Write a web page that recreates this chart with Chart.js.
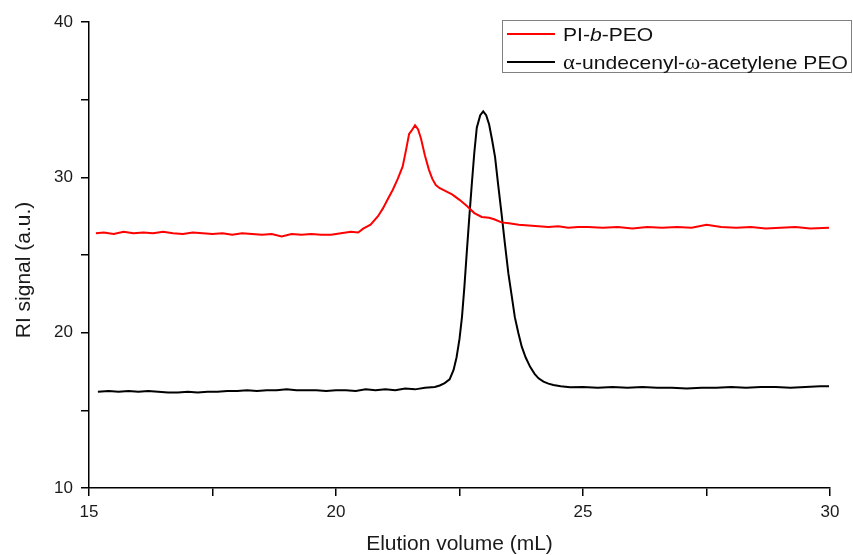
<!DOCTYPE html>
<html lang="en">
<head>
  <meta charset="UTF-8" />
  <title>GPC traces</title>
  <script src="https://cdn.jsdelivr.net/npm/chart.js"></script>
  <style>
    html, body { margin: 0; padding: 0; background: #fff; }
    #wrap { width: 853px; height: 555px; }
  </style>
</head>
<body>
  <div id="wrap"><canvas id="chartGpc" width="853" height="555"></canvas></div>

  <script>
    // PI-b-PEO trace (elution volume in mL, RI signal)
    const redX = [15.14, 15.3, 15.5, 15.7, 15.9, 16.1, 16.3, 16.5, 16.7, 16.9, 17.1, 17.3, 17.5, 17.7, 17.9,
      18.1, 18.3, 18.5, 18.7, 18.9, 19.1, 19.3, 19.5, 19.7, 19.9, 20.1, 20.3, 20.45, 20.55, 20.7, 20.85,
      20.95, 21.05, 21.15, 21.25, 21.35, 21.42, 21.48, 21.53, 21.6, 21.66, 21.72, 21.8, 21.88, 21.95,
      22.02, 22.1, 22.2, 22.35, 22.5, 22.65, 22.8, 22.95, 23.1, 23.2, 23.35, 23.5, 23.7, 23.9, 24.1, 24.3,
      24.5, 24.7, 24.9, 25.1, 25.4, 25.7, 26.0, 26.3, 26.6, 26.9, 27.2, 27.5, 27.8, 28.1, 28.4, 28.7,
      29.0, 29.3, 29.6, 29.98];
    const redY = [26.4, 26.45, 26.35, 26.5, 26.4, 26.45, 26.4, 26.5, 26.4, 26.35, 26.45, 26.4, 26.35, 26.4, 26.3,
      26.4, 26.35, 26.3, 26.35, 26.2, 26.35, 26.3, 26.35, 26.3, 26.3, 26.4, 26.5, 26.45, 26.7, 26.95, 27.5,
      28.0, 28.6, 29.2, 29.9, 30.7, 31.8, 32.8, 33.0, 33.35, 33.1, 32.5, 31.4, 30.5, 29.9,
      29.5, 29.3, 29.15, 28.9, 28.55, 28.15, 27.7, 27.45, 27.4, 27.3, 27.1, 27.05, 26.95, 26.9, 26.85, 26.8,
      26.85, 26.75, 26.8, 26.8, 26.75, 26.8, 26.7, 26.8, 26.75, 26.8, 26.75, 26.95, 26.8, 26.75, 26.8, 26.7,
      26.75, 26.8, 26.7, 26.75];

    // alpha-undecenyl-omega-acetylene PEO trace
    const blackX = [15.18, 15.4, 15.6, 15.8, 16.0, 16.2, 16.4, 16.6, 16.8, 17.0, 17.2, 17.4, 17.6, 17.8, 18.0,
      18.2, 18.4, 18.6, 18.8, 19.0, 19.2, 19.4, 19.6, 19.8, 20.0, 20.2, 20.4, 20.6, 20.8, 21.0, 21.2, 21.4,
      21.6, 21.8, 22.0, 22.1, 22.2, 22.3, 22.38, 22.44, 22.5, 22.55, 22.6, 22.65, 22.7, 22.75, 22.8, 22.85,
      22.92, 22.98, 23.04, 23.1, 23.16, 23.22, 23.28, 23.35, 23.42, 23.49, 23.56, 23.62, 23.69, 23.76,
      23.84, 23.93, 24.02, 24.1, 24.2, 24.3, 24.4, 24.55, 24.74, 25.0, 25.3, 25.6, 25.9, 26.2, 26.5, 26.8,
      27.1, 27.4, 27.7, 28.0, 28.3, 28.6, 28.9, 29.2, 29.5, 29.8, 29.98];
    const blackY = [16.2, 16.25, 16.2, 16.25, 16.2, 16.25, 16.2, 16.15, 16.15, 16.2, 16.15, 16.2, 16.2, 16.25, 16.25,
      16.3, 16.25, 16.3, 16.3, 16.35, 16.3, 16.3, 16.3, 16.25, 16.3, 16.3, 16.25, 16.35, 16.3, 16.35, 16.3, 16.4,
      16.35, 16.45, 16.5, 16.6, 16.75, 17.0, 17.6, 18.4, 19.6, 21.0, 23.0, 25.3, 27.5, 29.6, 31.6, 33.2,
      34.0, 34.25, 34.0, 33.4, 32.4, 31.3, 29.6, 27.7, 25.7, 23.8, 22.3, 21.0, 20.0, 19.1,
      18.4, 17.8, 17.35, 17.06, 16.85, 16.72, 16.63, 16.55, 16.48, 16.5, 16.45, 16.5, 16.45, 16.5, 16.45, 16.45,
      16.4, 16.45, 16.45, 16.5, 16.45, 16.5, 16.5, 16.45, 16.5, 16.55, 16.55];

    const xTicksMajor = [15, 20, 25, 30];
    const yTicksMajor = [10, 20, 30, 40];

    const toPoints = (xs, ys) => xs.map((x, i) => ({ x: x, y: ys[i] }));

    const FONT = '"Liberation Sans", Arial, sans-serif';
    Chart.defaults.font.family = FONT;
    Chart.defaults.color = '#1a1a1a';

    // legend + y title drawn by hand (italic "b", greek letters, off-centre title)
    const legendBox = {
      id: 'legendBox',
      afterDraw(chart) {
        const c = chart.ctx;
        c.save();
        c.strokeStyle = '#808080';
        c.lineWidth = 1;
        c.strokeRect(502.5, 20.5, 349, 52);

        c.lineWidth = 2;
        c.strokeStyle = '#ff0000';
        c.beginPath(); c.moveTo(507, 34); c.lineTo(555, 34); c.stroke();
        c.strokeStyle = '#000';
        c.beginPath(); c.moveTo(507, 62); c.lineTo(555, 62); c.stroke();

        c.fillStyle = '#111';
        c.textBaseline = 'alphabetic';
        const parts1 = [['PI-', '18.5px ' + FONT], ['b', 'italic 18.5px ' + FONT], ['-PEO', '18.5px ' + FONT]];
        const parts2 = [['\u03b1', '20px "Liberation Serif", serif'], ['-undecenyl-', '18.5px ' + FONT],
          ['\u03c9', '20px "Liberation Serif", serif'], ['-acetylene PEO', '18.5px ' + FONT]];
        // the original text is a little wider than the font, stretch it sideways
        const stretch = 1.14;
        const drawParts = (parts, x, y) => {
          c.save();
          c.translate(x, y);
          c.scale(stretch, 1);
          let px = 0;
          parts.forEach(([t, f]) => {
            c.font = f;
            c.fillText(t, px, 0);
            px += c.measureText(t).width;
          });
          c.restore();
        };
        drawParts(parts1, 563, 41);
        drawParts(parts2, 563, 69);

        // y axis title
        c.save();
        c.translate(24, 270);
        c.rotate(-Math.PI / 2);
        c.font = '21px ' + FONT;
        c.fillStyle = '#1a1a1a';
        c.textAlign = 'center';
        c.textBaseline = 'middle';
        c.fillText('RI signal (a.u.)', 0, 0);
        c.restore();
        c.restore();
      }
    };

    const ctx = document.getElementById('chartGpc').getContext('2d');
    new Chart(ctx, {
      type: 'scatter',
      data: {
        datasets: [
          {
            label: 'PI-b-PEO',
            data: toPoints(redX, redY),
            showLine: true,
            borderColor: '#ff0000',
            borderWidth: 2,
            pointRadius: 0,
            tension: 0
          },
          {
            label: 'α-undecenyl-ω-acetylene PEO',
            data: toPoints(blackX, blackY),
            showLine: true,
            borderColor: '#000000',
            borderWidth: 2,
            pointRadius: 0,
            tension: 0
          }
        ]
      },
      options: {
        responsive: false,
        animation: false,
        layout: { padding: { left: 0, right: 23, top: 22, bottom: 0 } },
        plugins: {
          legend: { display: false },
          tooltip: { enabled: false }
        },
        scales: {
          x: {
            type: 'linear',
            min: 15,
            max: 30,
            afterFit: (s) => { s.height = 67; },
            afterBuildTicks: (s) => { s.ticks = [15, 17.5, 20, 22.5, 25, 27.5, 30].map(v => ({ value: v })); },
            ticks: {
              font: { size: 17 },
              padding: 6,
              maxRotation: 0,
              callback: (v) => xTicksMajor.includes(v) ? String(v) : ''
            },
            grid: { drawOnChartArea: false, drawTicks: true, tickLength: 8, color: '#000', lineWidth: 1.5 },
            border: { display: true, color: '#000', width: 1.5 },
            title: { display: true, text: 'Elution volume (mL)', font: { size: 21, lineHeight: 1.0 }, padding: { top: 0, bottom: 0 } }
          },
          y: {
            type: 'linear',
            min: 10,
            max: 40,
            afterFit: (s) => { s.width = 89; },
            afterBuildTicks: (s) => { s.ticks = [10, 15, 20, 25, 30, 35, 40].map(v => ({ value: v })); },
            ticks: {
              font: { size: 17 },
              padding: 8,
              callback: (v) => yTicksMajor.includes(v) ? String(v) : ''
            },
            grid: { drawOnChartArea: false, drawTicks: true, tickLength: 8, color: '#000', lineWidth: 1.5 },
            border: { display: true, color: '#000', width: 1.5 },
            title: { display: false }
          }
        }
      },
      plugins: [legendBox]
    });
  </script>
</body>
</html>
